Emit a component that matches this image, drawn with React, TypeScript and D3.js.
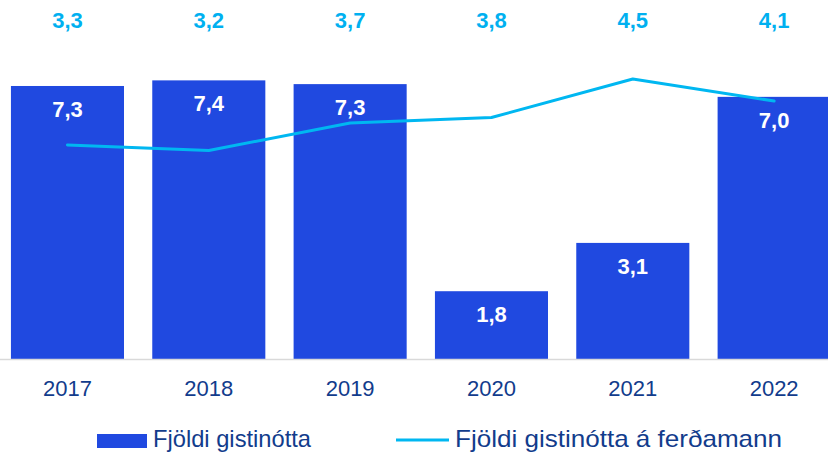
import React from "react";
import * as d3 from "d3";

const years = ["2017", "2018", "2019", "2020", "2021", "2022"];
const nights = [7.29, 7.44, 7.34, 1.81, 3.1, 7.0];
const nightsPerTourist = [3.3, 3.2, 3.7, 3.8, 4.5, 4.1];
const legendLabels = ["Fjöldi gistinótta", "Fjöldi gistinótta á ferðamann"];

const W = 828;
const H = 452;
const BAR = "#2049E0";
const LINE = "#00B7F1";
const NAVY = "#123C8C";
const FONT = "'Liberation Sans', Arial, sans-serif";

export default function App() {
  const x = d3.scaleBand<string>().domain(years).range([-3.2, 844.8]).paddingInner(0.2).paddingOuter(0.1);
  const baseline = 359;
  const y = d3.scaleLinear().domain([0, 8]).range([baseline, baseline - 8 * 37.45]);
  const y2 = d3.scaleLinear().domain([0, 5]).range([326.5, 51.5]);
  const fmt = (v: number) => v.toFixed(1).replace(".", ",");
  const cx = (d: string) => (x(d) as number) + x.bandwidth() / 2;
  const line = d3
    .line<number>()
    .x((_, i) => cx(years[i]))
    .y((v) => y2(v));

  return (
    <svg width={W} height={H} style={{ position: "absolute", left: 0, top: 0, background: "#fff" }} fontFamily={FONT}>
      {years.map((yr, i) => (
        <rect key={yr} x={x(yr)} y={y(nights[i])} width={x.bandwidth()} height={baseline - y(nights[i])} fill={BAR} />
      ))}
      <line x1={0} x2={W} y1={baseline + 0.5} y2={baseline + 0.5} stroke="#D9D9D9" strokeWidth={1.5} />
      <path d={line(nightsPerTourist) || ""} fill="none" stroke={LINE} strokeWidth={3} strokeLinejoin="round" strokeLinecap="round" />
      {years.map((yr, i) => (
        <text key={"bl" + yr} x={cx(yr)} y={y(nights[i]) + 31} textAnchor="middle" fill="#fff" fontWeight="bold" fontSize={22}>
          {fmt(nights[i])}
        </text>
      ))}
      {years.map((yr, i) => (
        <text key={"ll" + yr} x={cx(yr)} y={28} textAnchor="middle" fill="#00B0F0" fontWeight="bold" fontSize={22}>
          {fmt(nightsPerTourist[i])}
        </text>
      ))}
      {years.map((yr) => (
        <text key={"yr" + yr} x={cx(yr)} y={396} textAnchor="middle" fill={NAVY} fontSize={22}>
          {yr}
        </text>
      ))}
      <rect x={97} y={434} width={50} height={14} fill={BAR} />
      <text x={153} y={447} fill={NAVY} fontSize={24} textLength={158} lengthAdjust="spacingAndGlyphs">{legendLabels[0]}</text>
      <line x1={396} x2={449} y1={440} y2={440} stroke={LINE} strokeWidth={3} />
      <text x={455} y={447} fill={NAVY} fontSize={24} textLength={327} lengthAdjust="spacingAndGlyphs">{legendLabels[1]}</text>
    </svg>
  );
}
